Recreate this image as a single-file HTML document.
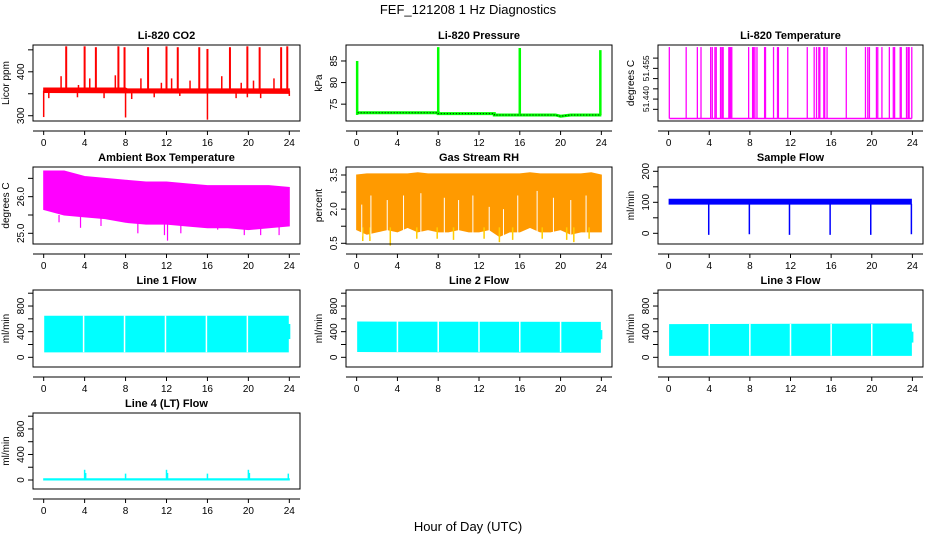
<!DOCTYPE html>
<html><head><meta charset="utf-8">
<style>
html,body{margin:0;padding:0;background:#fff;}
svg{display:block;font-family:"Liberation Sans",Arial,sans-serif;}
</style></head>
<body>
<svg id="chart" width="936" height="540" viewBox="0 0 936 540">
<text x="468" y="14" text-anchor="middle" font-size="13">FEF_121208  1 Hz Diagnostics</text>
<text x="468" y="531" text-anchor="middle" font-size="13">Hour of Day (UTC)</text>
</svg>
<script>
// ---- data ----
const xTicks = [0,4,8,12,16,20,24];
const co2BandHours = [0,8,8.2,24];
const co2BandHi = [363,363,361,361];
const co2BandLo = [353,352,352,351];
const co2SpikeHours = [2.2,4.0,5.1,7.3,7.9,10.2,12.0,13.1,15.2,16.0,18.2,19.9,21.1,23.2,23.8];
const co2SpikeTops = [458,458,456,458,456,456,458,456,456,452,456,458,456,456,458];
const co2MidHours = [1.7,3.4,4.5,7.0,9.5,11.5,12.5,14.3,17.4,19.3,20.5,22.5];
const co2MidTops = [390,370,385,392,385,375,385,380,390,375,380,385];
const co2DipHours = [0.0,8.0,16.0,0.5,3.3,5.9,8.6,10.8,13.3,18.8,19.9,21.2,24.0];
const co2DipBottoms = [297,296,291,340,342,340,338,342,345,340,342,340,345];

const presHours = [0.1,8,8,13.5,13.5,19.5,20,21,24];
const presVals = [73,73,72.8,72.8,72.5,72.5,72.2,72.5,72.5];
const presSpikeHours = [0.05,8.0,16.0,23.9];
const presSpikeTops = [85,88.2,88,87.5];

const tempBase = 51.4305;
const tempSpikeTop = 51.4654;
const tempSpikeHours = [0.07,1.73,2.83,3.19,4.14,4.3,4.56,4.69,5.11,5.24,5.37,5.93,6.03,6.12,6.22,7.88,8.27,8.37,8.5,8.7,9.45,9.54,10.33,10.72,10.81,11.73,13.65,14.33,14.56,14.79,14.89,15.28,15.37,15.6,17.49,19.38,19.61,19.77,20.46,20.59,21.0,21.73,22.12,22.25,22.8,22.9,23.42,23.58,23.68,23.94];

const ambHours = [0,2,4,6,8,10,12,14,16,18,20,22,24];
const ambHi = [26.7,26.7,26.55,26.5,26.45,26.4,26.4,26.35,26.3,26.3,26.3,26.3,26.25];
const ambLo = [25.65,25.5,25.45,25.4,25.3,25.25,25.25,25.2,25.15,25.15,25.1,25.15,25.2];
const ambDipHours = [1.5,3.6,5.6,9.2,11.8,12.1,13.4,17.0,19.6,21.2,23.0];
const ambDipVals = [25.3,25.15,25.2,25.0,24.95,24.8,25.0,25.1,24.95,24.95,24.95];

const rhHours = [0,1,2,3,4,5,6,7,8,9,10,11,12,13,14,15,16,17,18,19,20,21,22,23,24];
const rhHi = [3.5,3.55,3.55,3.55,3.55,3.55,3.6,3.55,3.55,3.55,3.55,3.55,3.55,3.55,3.55,3.55,3.55,3.6,3.55,3.55,3.55,3.55,3.55,3.6,3.5];
const rhLo = [1.1,0.9,1.0,1.1,1.0,1.2,1.0,1.1,1.0,1.0,1.1,1.0,1.0,1.1,0.8,1.0,1.0,1.2,1.0,1.0,1.1,0.9,1.0,1.0,1.0];
const rhDipHours = [0.6,1.3,3.3,5.9,7.9,9.5,12.5,14.0,15.3,18.2,20.6,21.3,22.8];
const rhDipVals = [0.6,0.6,0.4,0.7,0.7,0.65,0.7,0.55,0.65,0.7,0.65,0.55,0.7];
const rhGapHours = [0.5,1.4,3.0,4.6,6.3,8.6,10.0,11.4,13.0,14.4,15.8,17.7,19.3,21.0,22.5];
const rhGapTops = [2.2,2.6,2.4,2.6,2.7,2.5,2.4,2.6,2.1,2.0,2.6,2.8,2.5,2.4,2.6];

const sfHours = [0.05,23.9];
const sfHi = [110,110];
const sfLo = [94,94];
const sfDropHours = [3.95,7.95,11.9,15.9,19.9,23.9];
const sfDropVals = [-5,-3,-5,-5,-5,-3];

const l1Hi = [640,640];
const l1Lo = [85,85];
const l1GapHours = [3.9,7.9,11.9,15.9,19.9];
const l2Hi = [550,545];
const l2Lo = [90,80];
const l2GapHours = [4.0,8.0,12.0,16.0,20.0];
const l3Hi = [510,520];
const l3Lo = [30,30];
const l3GapHours = [4.0,8.0,12.0,16.0,20.0];
const flowHours = [0.1,23.9];

const l4Hours = [0,24];
const l4Hi = [20,20];
const l4Lo = [0,0];
const l4SpikeHours = [4.0,4.1,8.0,12.0,12.1,16.0,20.0,20.1,23.9];
const l4SpikeVals = [160,110,100,160,110,100,160,110,100];

// ---- layout ----
const svg = document.getElementById('chart');
const NS = 'http://www.w3.org/2000/svg';
const colL = [33,346,658], colR = [300,612,923];
const rowT = [45,167,290,413], rowB = [121,244,367,489];

function el(tag, attrs, parent){
  const e = document.createElementNS(NS, tag);
  for (const k in attrs) e.setAttribute(k, attrs[k]);
  (parent||svg).appendChild(e);
  return e;
}

function panel(name, col, row, title, ylab, dom, ticks, labels, fmt, lblSize){
  const L = colL[col], R = colR[col], T = rowT[row], B = rowB[row];
  const g = el('g', {});
  
  
  const pad = (R-L)*0.04;
  const x = h => L + pad + (R-L-2*pad)*h/24;
  const y = v => B - (v-dom[0])/(dom[1]-dom[0])*(B-T);
  const plot = el('g', {}, g);
  
  
  const t = el('text', {x:(L+R)/2, y:T-6, 'text-anchor':'middle', 'font-size':11, 'font-weight':'bold'}, g);
  t.textContent = title;
  
  
  const yt = el('text', {x:0, y:0, 'text-anchor':'middle', 'font-size':10, transform:`translate(${L-24},${(T+B)/2}) rotate(-90)`}, g);
  yt.textContent = ylab;
  
  
  const ya = el('g', {}, g);
  
  
  ticks.forEach(v => {
    const yy = y(v);
    el('line', {x1:L-5, x2:L, y1:yy, y2:yy, stroke:'#000', 'stroke-width':1}, ya);
  });
  labels.forEach(v => {
    const yy = y(v);
    const lt = el('text', {x:0, y:0, 'text-anchor':'middle', 'font-size':lblSize||10, transform:`translate(${L-9},${yy}) rotate(-90)`}, ya);
    lt.textContent = fmt ? fmt(v) : String(v);
    
    
  });
  const xa = el('g', {}, g);
  
  
  el('line', {x1:L, x2:R, y1:B+10, y2:B+10, stroke:'#000', 'stroke-width':1}, xa);
  xTicks.forEach(h => {
    el('line', {x1:x(h), x2:x(h), y1:B+10, y2:B+14, stroke:'#000', 'stroke-width':1}, xa);
    const lt = el('text', {x:x(h), y:B+25, 'text-anchor':'middle', 'font-size':10}, xa);
    lt.textContent = String(h);
    
    
  });
  return {x, y, plot, g, L, R, T, B};
}
function box(p){
  const b = el('rect', {x:p.L, y:p.T, width:p.R-p.L, height:p.B-p.T, fill:'none', stroke:'#000', 'stroke-width':1}, p.g);
  
  
}
function band(p, hours, hi, lo, fill, name){
  let pts = hours.map((h,i)=>`${p.x(h)},${p.y(hi[i])}`);
  for (let i=hours.length-1;i>=0;i--) pts.push(`${p.x(hours[i])},${p.y(lo[i])}`);
  const e = el('polygon', {points:pts.join(' '), fill:fill, stroke:fill, 'stroke-width':1}, p.plot);
  
  
}
function vlines(p, hours, from, to, color, w, name){
  hours.forEach((h,i)=>{
    const a = Array.isArray(from)?from[i]:from, b = Array.isArray(to)?to[i]:to;
    const e = el('line', {x1:p.x(h), x2:p.x(h), y1:p.y(a), y2:p.y(b), stroke:color, 'stroke-width':w}, p.plot);
    
    
  });
}

// CO2
let p = panel('co2', 0, 0, 'Li-820 CO2', 'Licor ppm', [288,461], [300,350,400,450], [300,400]);
band(p, co2BandHours, co2BandHi, co2BandLo, '#ff0000', 'co2-baseline');
vlines(p, co2SpikeHours, 357, co2SpikeTops, '#ff0000', 2, 'co2-spike');
vlines(p, co2MidHours, 357, co2MidTops, '#ff0000', 1.5, 'co2-mid-spike');
vlines(p, co2DipHours, 357, co2DipBottoms, '#ff0000', 1.5, 'co2-dip');
box(p);

// Pressure
p = panel('pressure', 1, 0, 'Li-820 Pressure', 'kPa', [71.1,88.7], [75,80,85], [75,80,85]);
let pl = el('polyline', {points:presHours.map((h,i)=>`${p.x(h)},${p.y(presVals[i])}`).join(' '), fill:'none', stroke:'#00ff00', 'stroke-width':3}, p.plot);


vlines(p, presSpikeHours, 72.5, presSpikeTops, '#00ff00', 2.5, 'pressure-spike');
pl = el('polyline', {points:presHours.map((h,i)=>`${p.x(h)},${p.y(presVals[i])}`).join(' '), fill:'none', stroke:'#000', 'stroke-width':1, 'stroke-dasharray':'1,2'}, p.plot);


box(p);

// Temperature
p = panel('li820-temp', 2, 0, 'Li-820 Temperature', 'degrees C', [51.4293,51.4664], [51.435,51.440,51.445,51.450,51.455,51.460], [51.440,51.455], v=>v.toFixed(3), 8.5);
let tl = el('line', {x1:p.x(0.07), x2:p.x(23.94), y1:p.y(tempBase), y2:p.y(tempBase), stroke:'#ff00ff', 'stroke-width':1.5}, p.plot);


vlines(p, tempSpikeHours, tempBase, tempSpikeTop, '#ff00ff', 1.3, 'temperature-spike');
box(p);

// Ambient
p = panel('ambient-temp', 0, 1, 'Ambient Box Temperature', 'degrees C', [24.708,26.81], [25.0,25.5,26.0,26.5], [25.0,26.0], v=>v.toFixed(1));
band(p, ambHours, ambHi, ambLo, '#ff00ff', 'ambient-band');
vlines(p, ambDipHours, 25.5, ambDipVals, '#ff00ff', 1.2, 'ambient-dip');
box(p);

// RH
p = panel('rh', 1, 1, 'Gas Stream RH', 'percent', [0.469,3.851], [0.5,1.25,2.0,2.75,3.5], [0.5,2.0,3.5], v=>v.toFixed(1));
band(p, rhHours, rhHi, rhLo, '#ff9a00', 'rh-band');
vlines(p, rhDipHours, 1.2, rhDipVals, '#ffcc00', 1.5, 'rh-dip');
vlines(p, rhGapHours, 0.8, rhGapTops, '#ffffff', 1, 'rh-gap');
box(p);

// Sample flow
p = panel('sample-flow', 2, 1, 'Sample Flow', 'ml/min', [-34.5,213.9], [0,50,100,150,200], [0,100,200]);
band(p, sfHours, sfHi, sfLo, '#0000ff', 'sample-flow-band');
vlines(p, sfDropHours, 95, sfDropVals, '#0000ff', 1.5, 'sample-flow-drop');
box(p);

// Line flows
const flowTicks = [0,200,400,600,800,1000], flowLabels = [0,400,800];
[['line1-flow',0,'Line 1 Flow',l1Hi,l1Lo,l1GapHours],['line2-flow',1,'Line 2 Flow',l2Hi,l2Lo,l2GapHours],['line3-flow',2,'Line 3 Flow',l3Hi,l3Lo,l3GapHours]].forEach(c=>{
  const q = panel(c[0], c[1], 2, c[2], 'ml/min', [-151,1050], flowTicks, flowLabels);
  band(q, flowHours, c[3], c[4], '#00ffff', c[0]+'-band');
  vlines(q, c[5], c[4][0]-5, c[3][0]+10, '#ffffff', 1.5, c[0]+'-gap');
  vlines(q, [24], c[4][1]+200, c[3][1]-120, '#00ffff', 2, c[0]+'-end');
  box(q);
});

// Line 4
p = panel('line4-flow', 0, 3, 'Line 4 (LT) Flow', 'ml/min', [-141,1050], flowTicks, flowLabels);
band(p, l4Hours, l4Hi, l4Lo, '#00ffff', 'line4-band');
vlines(p, l4SpikeHours, 10, l4SpikeVals, '#00ffff', 1.5, 'line4-spike');
box(p);
</script>
</body></html>
